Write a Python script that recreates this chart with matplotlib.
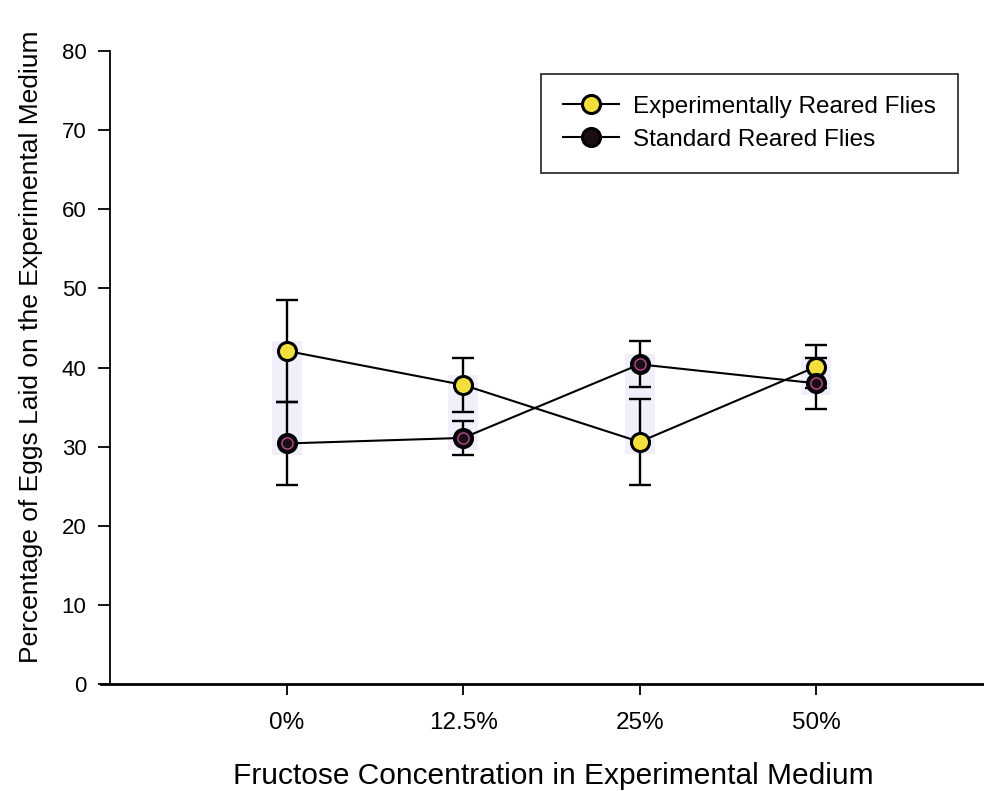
import numpy as np
import matplotlib.pyplot as plt

plt.rcParams['font.family'] = ['Liberation Sans', 'DejaVu Sans']

concentrations = ['0%', '12.5%', '25%', '50%']
exp_mean = [42.1, 37.8, 30.6, 40.1]
exp_err = [6.4, 3.4, 5.4, 2.7]
std_mean = [30.4, 31.1, 40.4, 38.0]
std_err = [5.3, 2.2, 2.9, 3.2]

x = np.arange(1, len(concentrations) + 1)

fig = plt.figure(figsize=(9.84, 7.91), dpi=100)
ax = fig.add_axes([110 / 984, 1 - 684 / 791, 874 / 984, 633 / 791])

# faint shaded band behind each pair of points
lo = np.minimum(exp_mean, std_mean) - 1.5
hi = np.maximum(exp_mean, std_mean) + 1.3
ax.bar(x, hi - lo, bottom=lo, width=0.17, color='#f0effa', zorder=0)

ax.errorbar(x, exp_mean, yerr=exp_err, fmt='none', ecolor='black',
            elinewidth=1.7, capsize=8, capthick=1.7, zorder=2)
ax.errorbar(x, std_mean, yerr=std_err, fmt='none', ecolor='black',
            elinewidth=1.7, capsize=8, capthick=1.7, zorder=2)

ax.plot(x, exp_mean, '-', color='black', lw=1.5, zorder=3)
ax.plot(x, std_mean, '-', color='black', lw=1.5, zorder=3)
ax.plot(x, exp_mean, 'o', ms=13, mfc='#f2df3c', mec='black', mew=2.2, zorder=4)
ax.plot(x, std_mean, 'o', ms=13, mfc='#1a0d14', mec='black', mew=2.2, zorder=4)
ax.plot(x, std_mean, 'o', ms=8, mfc='none', mec='#c0529c', mew=0.9, zorder=5)

# legend entries
h1, = ax.plot([], [], '-o', color='black', lw=1.5, ms=13, mfc='#f2df3c', mec='black', mew=2.2)
h2, = ax.plot([], [], '-o', color='black', lw=1.5, ms=13, mfc='#1a0d14', mec='black', mew=2.2)
leg = ax.legend([h1, h2], ['Experimentally Reared Flies', 'Standard Reared Flies'],
                loc='upper left', bbox_to_anchor=(431 / 874, 610 / 633),
                fontsize=17.5, frameon=True, fancybox=False, edgecolor='black',
                handlelength=2.3, handletextpad=0.6, borderpad=0.9, labelspacing=0.45,
                borderaxespad=0)
leg.get_frame().set_linewidth(1.3)

ax.set_xlim(0, 4.95)
ax.set_ylim(0, 80)
ax.set_yticks(np.arange(0, 81, 10))
ax.set_xticks(x)
ax.set_xticklabels(concentrations)
ax.tick_params(axis='both', width=1.3, direction='out')
ax.tick_params(axis='y', labelsize=16, length=9, pad=8)
ax.tick_params(axis='x', labelsize=17.5, length=8, pad=12)
ax.spines['top'].set_visible(False)
ax.spines['right'].set_visible(False)
ax.spines['left'].set_linewidth(1.3)
ax.spines['bottom'].set_linewidth(2)
ax.spines['bottom'].set_bounds(-0.05, 4.95)

ax.set_xlabel('Fructose Concentration in Experimental Medium', fontsize=21.5, labelpad=20)
ax.set_ylabel('Percentage of Eggs Laid on the Experimental Medium', fontsize=19, labelpad=10)
ax.xaxis.set_label_coords(0.507, -0.123)
ax.yaxis.set_label_coords(-0.077, 0.532)

fig.savefig('out.png', dpi=100)
